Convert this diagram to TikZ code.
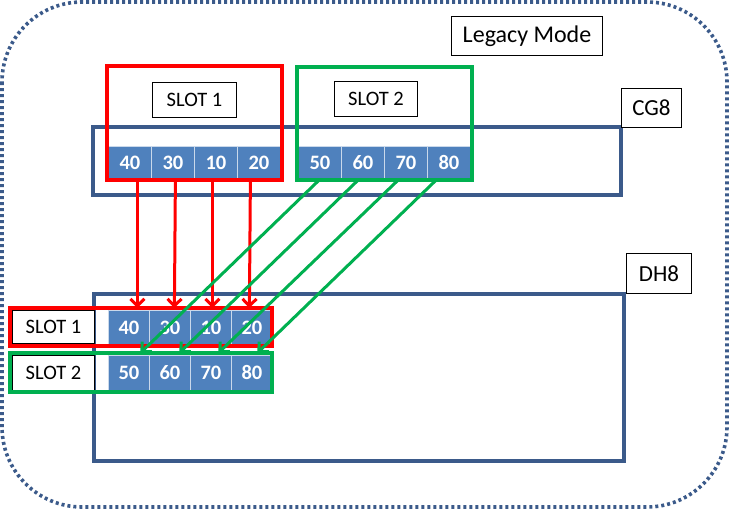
\documentclass[tikz,border=0pt]{standalone}
\usepackage{fontspec}
\setmainfont{Carlito}
\usetikzlibrary{arrows.meta}
\definecolor{cellblue}{HTML}{4F81BD}
\definecolor{frameblue}{HTML}{3B5A8A}
\definecolor{slotred}{HTML}{FF0000}
\definecolor{slotgreen}{HTML}{00B050}
\tikzset{
  cell/.style={fill=cellblue, draw=white!70!cellblue, line width=0.8pt, inner sep=0pt,
    minimum height=#1, text=white, font=\fontsize{20.5}{20.5}\selectfont\bfseries, anchor=north west},
  topcell/.style={cell=33pt, minimum width=43pt},
  botcell/.style={cell=34pt, minimum width=41pt},
  label/.style={draw=black, line width=1pt, fill=white, inner sep=0pt, anchor=north west,
    font=\fontsize{20.5}{20.5}\selectfont},
  devframe/.style={draw=frameblue, line width=3.2pt},
  redline/.style={draw=slotred, line width=3.2pt},
  greenline/.style={draw=slotgreen, line width=3.2pt},
  redarrow/.style={slotred, line width=3pt, -{Straight Barb[length=7pt,width=14pt]}},
  greenarrow/.style={slotgreen, line width=3pt, -{Straight Barb[length=7pt,width=14pt]}},
}
\begin{document}
\begin{tikzpicture}[x=1pt, y=-1pt]
\useasboundingbox (0,0) rectangle (729,509);
% outer dotted frame
\draw[frameblue, line width=3.6pt, dash pattern=on 3pt off 3pt, rounded corners=80pt] (2,2) rectangle (727,507);
% legacy label
\node[label, minimum width=151pt, minimum height=39pt, font=\fontsize{24}{24}\selectfont] (legacy) at (451,16) {Legacy Mode};
% CG8
\draw[devframe] (93,127) rectangle (621,195);
\node[label, minimum width=60pt, minimum height=39pt, font=\fontsize{23}{23}\selectfont] (cg8) at (621,88) {CG8};
% DH8
\draw[devframe] (94,294) rectangle (624,461);
\node[label, minimum width=65pt, minimum height=40pt, font=\fontsize{23}{23}\selectfont] (dh8) at (626,253) {DH8};
% top slot boxes
\node[label, minimum width=84pt, minimum height=35pt] (s1lab) at (152,82) {SLOT 1};
\node[label, minimum width=83pt, minimum height=35pt] (s2lab) at (334,81) {SLOT 2};
% top cells
\node[topcell] (t40) at (108,146) {40};
\node[topcell] (t30) at (151,146) {30};
\node[topcell] (t10) at (194,146) {10};
\node[topcell] (t20) at (237,146) {20};
\node[topcell] (t50) at (298,146) {50};
\node[topcell] (t60) at (341,146) {60};
\node[topcell] (t70) at (384,146) {70};
\node[topcell] (t80) at (427,146) {80};
\draw[redline] (107,66) rectangle (282,180);
\draw[greenline] (297,67) rectangle (472,180);
% bottom rows
\node[label, minimum width=82pt, minimum height=33pt] (b1lab) at (12,310) {SLOT 1};
\node[label, minimum width=82pt, minimum height=35pt] (b2lab) at (12,355) {SLOT 2};
\node[botcell] (b40) at (108,310) {40};
\node[botcell] (b30) at (149,310) {30};
\node[botcell] (b10) at (190,310) {10};
\node[botcell] (b20) at (231,310) {20};
\node[botcell, minimum height=35pt] (b50) at (108,355) {50};
\node[botcell, minimum height=35pt] (b60) at (149,355) {60};
\node[botcell, minimum height=35pt] (b70) at (190,355) {70};
\node[botcell, minimum height=35pt] (b80) at (231,355) {80};
\draw[redline] (10,308) rectangle (272,346);
\draw[greenline] (10,353) rectangle (272,392);
% red arrows
\draw[redarrow] ([xshift=7.5pt]t40.south) -- ([xshift=8.5pt,yshift=2pt]b40.north);
\draw[redarrow] ([xshift=2.5pt]t30.south) -- ([xshift=4.5pt,yshift=2pt]b30.north);
\draw[redarrow] ([xshift=-3.5pt]t10.south) -- ([xshift=1.5pt,yshift=2pt]b10.north);
\draw[redarrow] ([xshift=-8.5pt]t20.south) -- ([xshift=-2.5pt,yshift=2pt]b20.north);
% green arrows
\draw[greenarrow] ([xshift=-1.5pt,yshift=-1pt]t50.south) -- ([xshift=11.5pt,yshift=2pt]b50.north);
\draw[greenarrow] ([xshift=-5.5pt,yshift=-1pt]t60.south) -- ([xshift=9.5pt,yshift=2pt]b60.north);
\draw[greenarrow] ([xshift=-8.5pt,yshift=-1pt]t70.south) -- ([xshift=7.5pt,yshift=2pt]b70.north);
\draw[greenarrow] ([xshift=-13.5pt,yshift=-1pt]t80.south) -- ([xshift=5.5pt,yshift=2pt]b80.north);
\end{tikzpicture}
\end{document}
